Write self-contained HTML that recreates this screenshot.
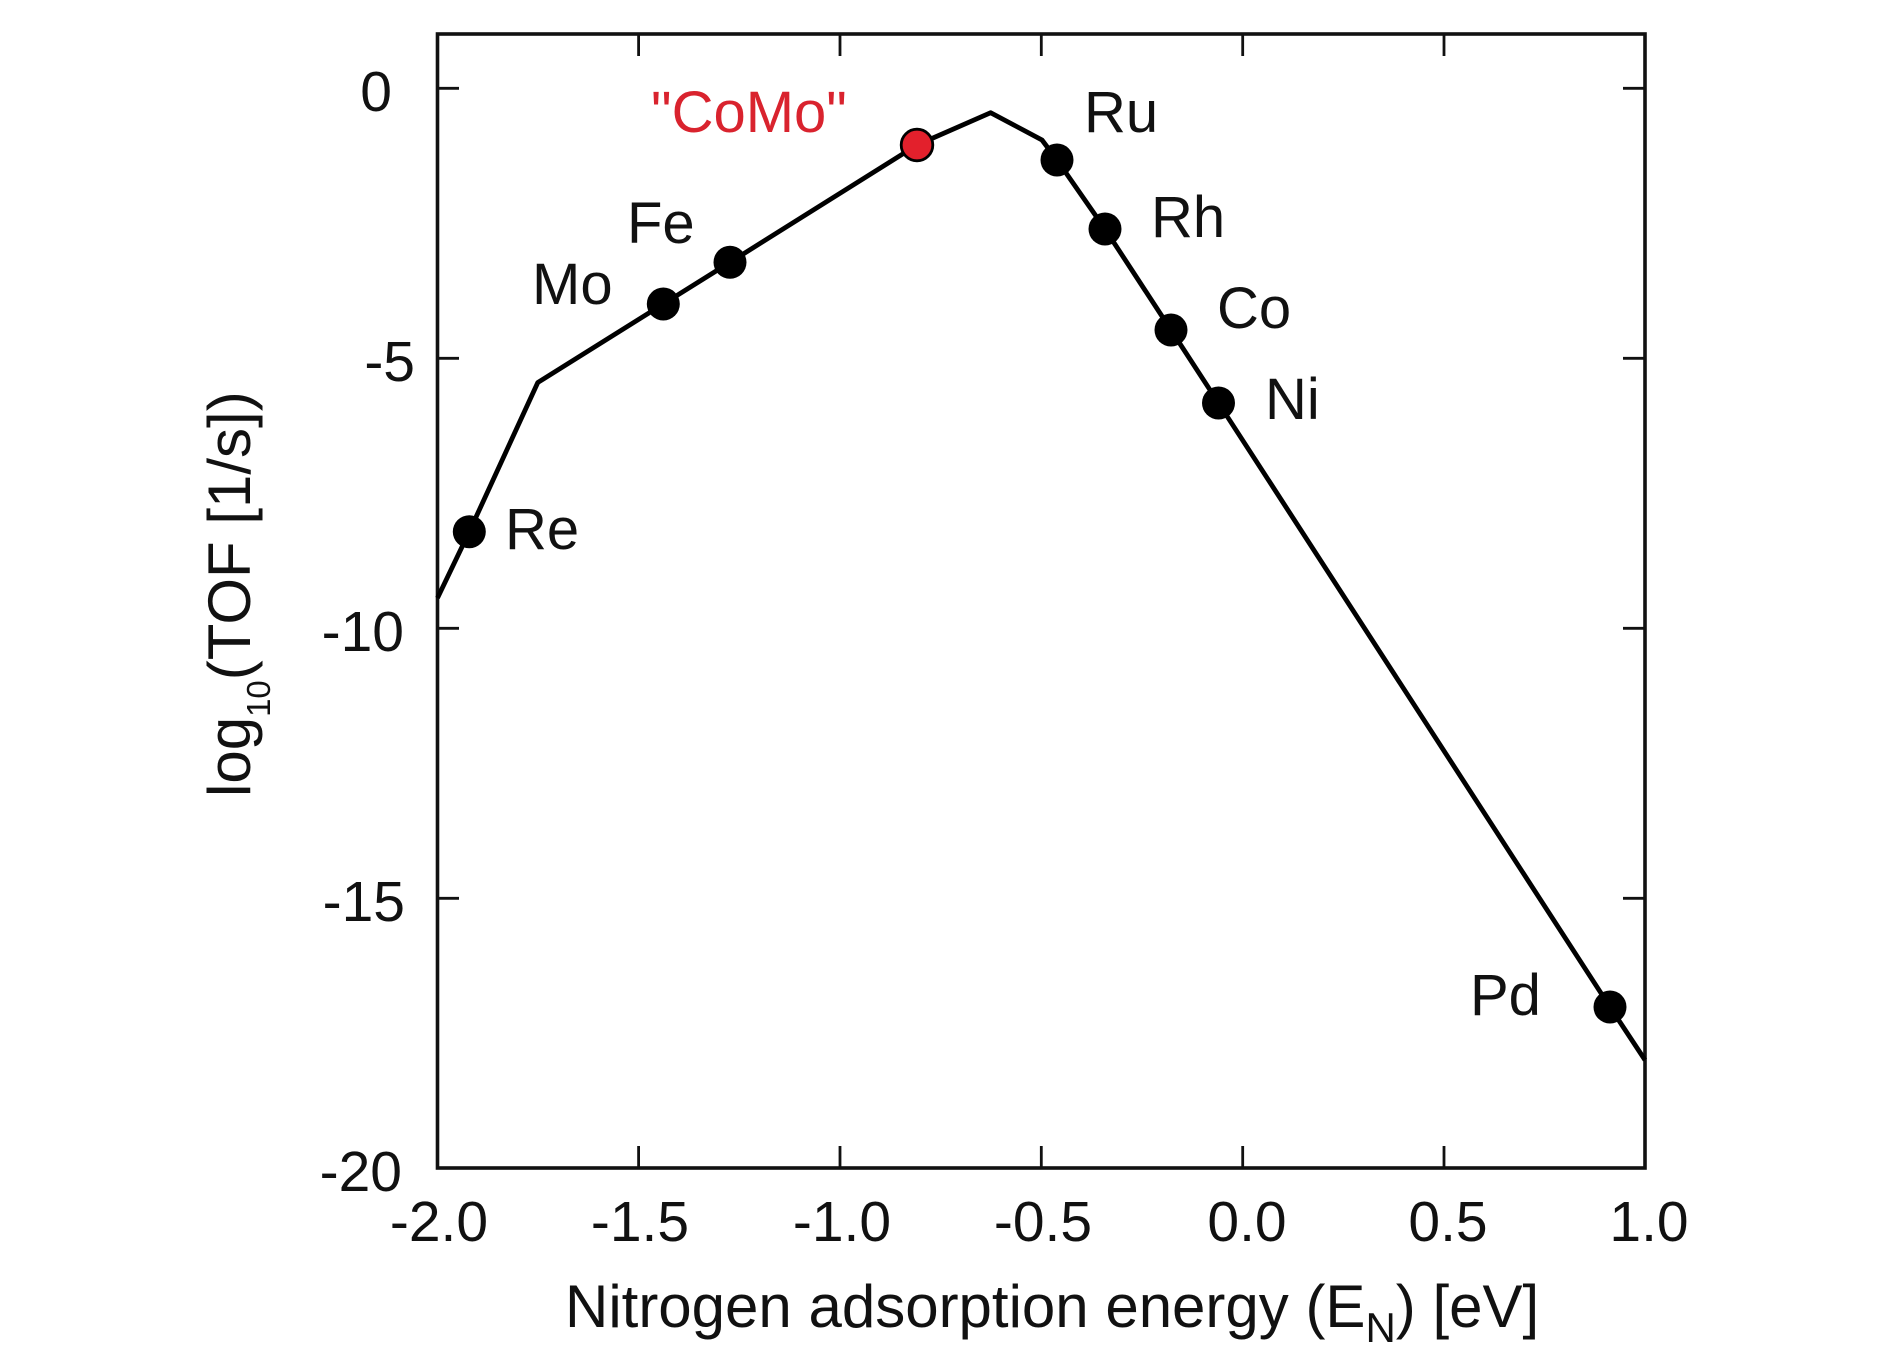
<!DOCTYPE html>
<html>
<head>
<meta charset="utf-8">
<style>
  html, body { margin: 0; padding: 0; background: #ffffff; }
  svg { display: block; }
  text { font-family: "Liberation Sans", Arial, sans-serif; fill: #111; }
</style>
</head>
<body>
<svg width="1890" height="1370" viewBox="0 0 1890 1370" xmlns="http://www.w3.org/2000/svg">
  <rect x="0" y="0" width="1890" height="1370" fill="#ffffff"/>

  <!-- Ticks -->
  <g stroke="#111" stroke-width="2.8" fill="none">
    <line x1="638.6" y1="1168" x2="638.6" y2="1146"/>
    <line x1="840" y1="1168" x2="840" y2="1146"/>
    <line x1="1041.3" y1="1168" x2="1041.3" y2="1146"/>
    <line x1="1242.7" y1="1168" x2="1242.7" y2="1146"/>
    <line x1="1444" y1="1168" x2="1444" y2="1146"/>
    <line x1="638.6" y1="34" x2="638.6" y2="56"/>
    <line x1="840" y1="34" x2="840" y2="56"/>
    <line x1="1041.3" y1="34" x2="1041.3" y2="56"/>
    <line x1="1242.7" y1="34" x2="1242.7" y2="56"/>
    <line x1="1444" y1="34" x2="1444" y2="56"/>
    <line x1="437" y1="88.3" x2="459" y2="88.3"/>
    <line x1="437" y1="358.3" x2="459" y2="358.3"/>
    <line x1="437" y1="628.3" x2="459" y2="628.3"/>
    <line x1="437" y1="898.3" x2="459" y2="898.3"/>
    <line x1="1645" y1="88.3" x2="1623" y2="88.3"/>
    <line x1="1645" y1="358.3" x2="1623" y2="358.3"/>
    <line x1="1645" y1="628.3" x2="1623" y2="628.3"/>
    <line x1="1645" y1="898.3" x2="1623" y2="898.3"/>
  </g>

  <!-- Frame -->
  <rect x="437.5" y="34" width="1207.5" height="1134" fill="none" stroke="#111" stroke-width="3.6"/>

  <!-- Curve -->
  <polyline fill="none" stroke="#000" stroke-width="4.8" stroke-linejoin="round"
    points="437.5,598 469.3,531.7 537.8,382.5 663.3,304 730,262.3 917,145 990.7,112.7 1042,140 1057,160 1105,229 1171,330 1218.5,403 1610,1007 1645,1060"/>

  <!-- Markers -->
  <g fill="#000">
    <circle cx="469.3" cy="531.7" r="16.5"/>
    <circle cx="663.3" cy="304" r="16.5"/>
    <circle cx="730" cy="262.3" r="16.5"/>
    <circle cx="1057" cy="160" r="16.5"/>
    <circle cx="1105" cy="229" r="16.5"/>
    <circle cx="1171" cy="330" r="16.5"/>
    <circle cx="1218.5" cy="403" r="16.5"/>
    <circle cx="1610" cy="1007" r="16.5"/>
  </g>
  <circle cx="917" cy="145" r="15.8" fill="#e3202c" stroke="#000" stroke-width="2.8"/>

  <!-- Point labels -->
  <g font-size="58">
    <text x="651" y="132" style="fill:#d9232e">"CoMo"</text>
    <text x="627" y="243">Fe</text>
    <text x="532" y="304">Mo</text>
    <text x="505" y="549">Re</text>
    <text x="1084" y="132">Ru</text>
    <text x="1151" y="237">Rh</text>
    <text x="1217" y="328">Co</text>
    <text x="1265" y="419">Ni</text>
    <text x="1470" y="1015">Pd</text>
  </g>

  <!-- Y tick labels -->
  <g font-size="57" text-anchor="end">
    <text x="392" y="111">0</text>
    <text x="415" y="381">-5</text>
    <text x="404" y="651">-10</text>
    <text x="405" y="921">-15</text>
    <text x="402" y="1191">-20</text>
  </g>

  <!-- X tick labels -->
  <g font-size="57" text-anchor="middle">
    <text x="439" y="1241">-2.0</text>
    <text x="640" y="1241">-1.5</text>
    <text x="842" y="1241">-1.0</text>
    <text x="1043" y="1241">-0.5</text>
    <text x="1247" y="1241">0.0</text>
    <text x="1448" y="1241">0.5</text>
    <text x="1649" y="1241">1.0</text>
  </g>

  <!-- X axis label -->
  <text x="565" y="1327" font-size="60">Nitrogen adsorption energy (E<tspan font-size="42" dy="15">N</tspan><tspan dy="-15">) [eV]</tspan></text>

  <!-- Y axis label -->
  <g transform="translate(250,797) rotate(-90)">
    <text x="0" y="0" font-size="60">log<tspan font-size="33" dy="20">10</tspan><tspan dy="-20">(TOF [1/s])</tspan></text>
  </g>
</svg>
</body>
</html>
